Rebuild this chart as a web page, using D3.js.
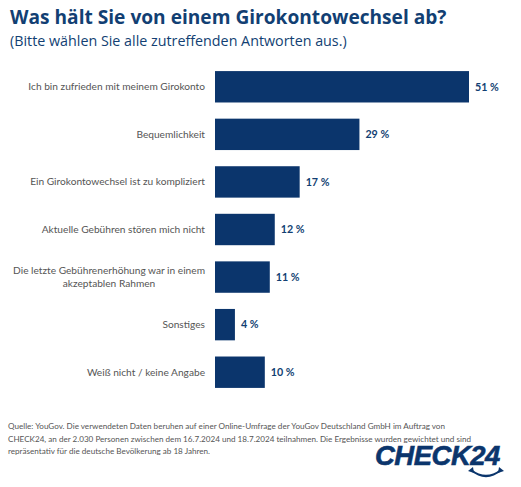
<!DOCTYPE html>
<html><head><meta charset="utf-8">
<script src="https://cdn.jsdelivr.net/npm/d3@7"></script>
<style>body{margin:0;background:#fff}svg{display:block}</style>
</head><body>
<script>
const categories = [
  ["Ich bin zufrieden mit meinem Girokonto"],
  ["Bequemlichkeit"],
  ["Ein Girokontowechsel ist zu kompliziert"],
  ["Aktuelle Gebühren stören mich nicht"],
  ["Die letzte Gebührenerhöhung war in einem", "akzeptablen Rahmen"],
  ["Sonstiges"],
  ["Weiß nicht / keine Angabe"]
];
const values = [51, 29, 17, 12, 11, 4, 10];
const valueLabels = ["51 %", "29 %", "17 %", "12 %", "11 %", "4 %", "10 %"];
const title = "Was hält Sie von einem Girokontowechsel ab?";
const subtitle = "(Bitte wählen Sie alle zutreffenden Antworten aus.)";
const footer = [
  "Quelle: YouGov. Die verwendeten Daten beruhen auf einer Online-Umfrage der YouGov Deutschland GmbH im Auftrag von",
  "CHECK24, an der 2.030 Personen zwischen dem 16.7.2024 und 18.7.2024 teilnahmen. Die Ergebnisse wurden gewichtet und sind",
  "repräsentativ für die deutsche Bevölkerung ab 18 Jahren."
];

const W = 521, H = 487;
const blue = "#0b356c", titleBlue = "#123f73", grey = "#555555";
const svg = d3.select("body").append("svg").attr("width", W).attr("height", H);
svg.append("rect").attr("width", W).attr("height", H).attr("fill", "#fff");

function fit(sel, target) {
  const fs = parseFloat(sel.attr("font-size"));
  const w = sel.node().getComputedTextLength();
  sel.attr("font-size", fs * target / w);
  return fs * target / w;
}

const FF = "'Open Sans', 'Noto Sans', sans-serif";
const FL = "Lato, 'Open Sans', sans-serif";
fit(svg.append("text").attr("x", 10).attr("y", 24).attr("font-family", FF).attr("font-weight", 700)
  .attr("font-size", 18).attr("fill", titleBlue).text(title), 437);
fit(svg.append("text").attr("x", 10).attr("y", 46).attr("font-family", FF)
  .attr("font-size", 14).attr("fill", titleBlue).text(subtitle), 337);

const x = d3.scaleLinear().domain([0, 51]).range([215, 469]);
const y = d3.scaleBand().domain(d3.range(values.length)).range([63, 396]).paddingInner(0.34).paddingOuter(0.17);

svg.append("g").selectAll("rect").data(values).join("rect")
  .attr("x", x(0)).attr("y", (d, i) => y(i))
  .attr("width", d => x(d) - x(0)).attr("height", y.bandwidth())
  .attr("fill", blue);

// category labels
const probe = svg.append("text").attr("font-family", FL).attr("font-size", 10).text(categories[0][0]);
const labFs = fit(probe, 177);
probe.remove();
const lab = svg.append("g").attr("font-family", FL).attr("font-size", labFs).attr("fill", grey);
categories.forEach((lines, i) => {
  const cy = y(i) + y.bandwidth() / 2;
  const lh = labFs * 1.3;
  const y0 = cy - (lines.length - 1) * lh / 2;
  const first = lab.append("text").attr("x", 205).attr("y", y0).attr("dy", "0.35em")
    .attr("text-anchor", "end").text(lines[0]);
  const w1 = first.node().getComputedTextLength();
  for (let k = 1; k < lines.length; k++) {
    lab.append("text").attr("x", 205 - w1 / 2).attr("y", y0 + k * lh).attr("dy", "0.35em")
      .attr("text-anchor", "middle").text(lines[k]);
  }
});

// value labels
svg.append("g").selectAll("text").data(values).join("text")
  .attr("x", d => x(d) + 6).attr("y", (d, i) => y(i) + y.bandwidth() / 2).attr("dy", "0.35em")
  .attr("font-family", FL).attr("font-weight", 700).attr("font-size", labFs * 1.05)
  .attr("fill", titleBlue).text((d, i) => valueLabels[i]);

// footer
const fp = svg.append("text").attr("font-family", FL).attr("font-size", 8).text(footer[1]);
const footFs = fit(fp, 464);
fp.remove();
footer.forEach((t, i) => {
  svg.append("text").attr("x", 8).attr("y", 429 + i * 12.5).attr("font-family", FL)
    .attr("font-size", footFs).attr("fill", grey).text(t);
});

// logo
const logo = svg.append("text").attr("x", 375).attr("y", 465)
  .attr("font-family", "'Liberation Sans', Arial, sans-serif").attr("font-weight", 700)
  .attr("font-style", "italic").attr("font-size", 22).attr("fill", blue).attr("letter-spacing", -0.5)
  .attr("stroke", blue).attr("stroke-width", 0.6)
  .text("CHECK24");
fit(logo, 124);
svg.append("path").attr("d", "M471,470 Q486,482 501,470").attr("fill", "none")
  .attr("stroke", blue).attr("stroke-width", 2.2);
svg.append("path").attr("d", "M468,471 L473,467 L474,473 Z M504,471 L499,467 L498,473 Z").attr("fill", blue);
</script>
</body></html>
